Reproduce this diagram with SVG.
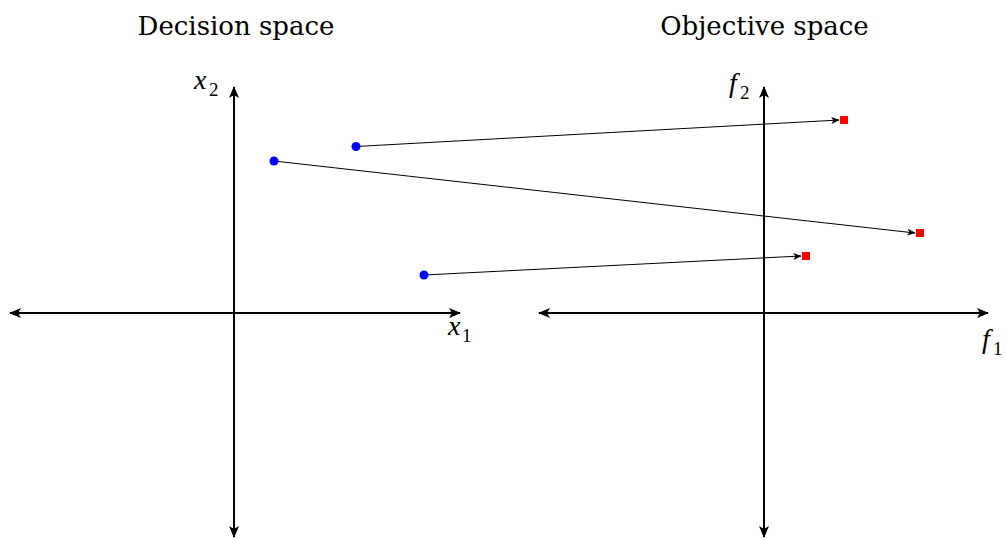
<svg xmlns="http://www.w3.org/2000/svg" width="1006" height="540" viewBox="0 0 1006 540">
<style>
.axis{stroke:#000;stroke-width:2;fill:none}
.conn{stroke:#000;stroke-width:1;fill:none}
.title{font-family:"DejaVu Serif","Liberation Serif",serif;font-size:26px;fill:#000}
.lab{font-family:"Liberation Serif","DejaVu Serif",serif;font-size:28px;font-style:italic;fill:#000}
.sub{font-family:"Liberation Serif","DejaVu Serif",serif;font-size:19px;fill:#000}
.pt{fill:#0000ff}
.sq{fill:#ff0000}
</style>
<defs>
<marker id="ah" viewBox="0 0 12 10" refX="11" refY="5" markerWidth="6" markerHeight="5" orient="auto-start-reverse" markerUnits="strokeWidth">
<path d="M0,0 L12,5 L0,10 L3,5 Z" fill="#000"/>
</marker>
<marker id="sh" viewBox="0 0 12 10" refX="11" refY="5" markerWidth="9" markerHeight="7" orient="auto" markerUnits="strokeWidth">
<path d="M0,0 L12,5 L0,10 L3,5 Z" fill="#000"/>
</marker>
</defs>
<text class="title" x="236" y="35" text-anchor="middle">Decision space</text>
<text class="title" x="764.5" y="35" text-anchor="middle">Objective space</text>
<g id="decision-axes">
<line class="axis" x1="10" y1="313" x2="460" y2="313" marker-start="url(#ah)" marker-end="url(#ah)"/>
<line class="axis" x1="234" y1="537" x2="234" y2="87" marker-start="url(#ah)" marker-end="url(#ah)"/>
<text class="lab" x="194" y="89">x</text><text class="sub" x="209" y="96">2</text>
<text class="lab" x="448" y="335">x</text><text class="sub" x="462" y="342">1</text>
</g>
<g id="objective-axes">
<line class="axis" x1="539" y1="313" x2="988" y2="313" marker-start="url(#ah)" marker-end="url(#ah)"/>
<line class="axis" x1="764" y1="537" x2="764" y2="87" marker-start="url(#ah)" marker-end="url(#ah)"/>
<text class="lab" x="729" y="92">f</text><text class="sub" x="740" y="99">2</text>
<text class="lab" x="982" y="348">f</text><text class="sub" x="993" y="355">1</text>
</g>
<g id="connectors">
<line class="conn" x1="356" y1="146.5" x2="839" y2="120" marker-end="url(#sh)"/>
<line class="conn" x1="274" y1="161" x2="915" y2="233" marker-end="url(#sh)"/>
<line class="conn" x1="424" y1="275" x2="801" y2="256" marker-end="url(#sh)"/>
</g>
<g id="p1"><circle class="pt" cx="356" cy="146.5" r="4.5"/></g>
<g id="p2"><circle class="pt" cx="274" cy="161" r="4.5"/></g>
<g id="p3"><circle class="pt" cx="424" cy="275" r="4.5"/></g>
<g id="q1"><rect class="sq" x="840" y="116" width="8" height="8"/></g>
<g id="q2"><rect class="sq" x="916" y="229" width="8" height="8"/></g>
<g id="q3"><rect class="sq" x="802" y="252" width="8" height="8"/></g>
</svg>
